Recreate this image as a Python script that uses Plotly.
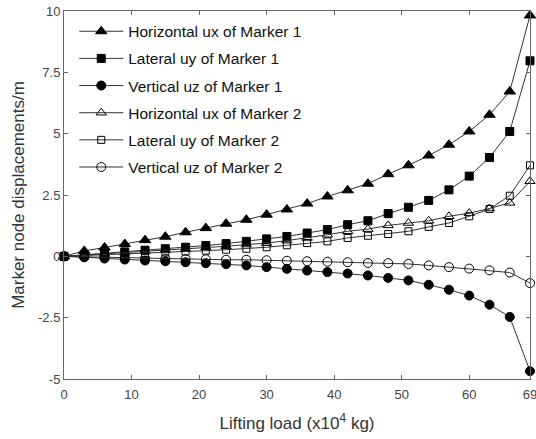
import plotly.graph_objects as go

load = [0, 3, 6, 9, 12, 15, 18, 21, 24, 27, 30, 33, 36, 39, 42, 45, 48, 51, 54, 57, 60, 63, 66, 69]

ux1 = [0, 0.22, 0.36, 0.5, 0.66, 0.8, 0.98, 1.15, 1.33, 1.49, 1.7, 1.91, 2.15, 2.44, 2.69, 2.96, 3.35, 3.71, 4.11, 4.55, 5.09, 5.77, 6.72, 9.82]
uy1 = [0, 0.06, 0.12, 0.18, 0.25, 0.31, 0.37, 0.44, 0.52, 0.61, 0.71, 0.81, 0.95, 1.09, 1.29, 1.45, 1.74, 2.0, 2.28, 2.71, 3.27, 4.03, 5.09, 7.97]
uz1 = [0, -0.04, -0.09, -0.13, -0.17, -0.2, -0.24, -0.28, -0.32, -0.37, -0.44, -0.51, -0.58, -0.64, -0.7, -0.78, -0.88, -0.98, -1.16, -1.36, -1.6, -1.97, -2.47, -4.68]
ux2 = [0, 0.05, 0.1, 0.15, 0.2, 0.25, 0.3, 0.36, 0.41, 0.48, 0.54, 0.64, 0.75, 0.88, 1.02, 1.11, 1.26, 1.36, 1.45, 1.63, 1.76, 1.95, 2.18, 3.06]
uy2 = [0, 0.03, 0.06, 0.09, 0.12, 0.16, 0.19, 0.23, 0.27, 0.31, 0.37, 0.45, 0.54, 0.61, 0.75, 0.84, 0.91, 1.02, 1.2, 1.36, 1.63, 1.93, 2.47, 3.71]
uz2 = [0, -0.02, -0.04, -0.06, -0.08, -0.1, -0.11, -0.12, -0.14, -0.14, -0.16, -0.18, -0.2, -0.22, -0.24, -0.27, -0.28, -0.31, -0.37, -0.44, -0.5, -0.57, -0.66, -1.09]

names = ["Horizontal ux of Marker 1", "Lateral uy of Marker 1", "Vertical uz of Marker 1",
         "Horizontal ux of Marker 2", "Lateral uy of Marker 2", "Vertical uz of Marker 2"]
series = [ux1, uy1, uz1, ux2, uy2, uz2]
symbols = ["triangle-up", "square", "circle", "triangle-up-open", "square-open", "circle-open"]
sizes = [10, 8, 9, 9, 7, 9]

x_ticks = [0, 10, 20, 30, 40, 50, 60, 69]
y_ticks = [-5, -2.5, 0, 2.5, 5, 7.5, 10]
y_tick_text = ["-5", "-2.5", "0", "2.5", "5", "7.5", "10"]

fig = go.Figure()
for i, (nm, ys, sym, sz) in enumerate(zip(names, series, symbols, sizes)):
    fig.add_trace(go.Scatter(
        x=load, y=ys, name=nm, mode="lines+markers",
        line=dict(color="#333333", width=1),
        marker=dict(symbol=sym, size=sz, color="black", line=dict(color="black", width=1)),
        cliponaxis=False, legendgroup=f"g{i}",
    ))

axis_common = dict(showline=True, linecolor="#666666", linewidth=1, mirror="ticks",
                   ticks="inside", ticklen=4, tickcolor="#666666", showgrid=False, zeroline=False,
                   automargin=False, ticklabeloverflow="allow",
                   tickfont=dict(family="Liberation Sans, Arial", size=13, color="#444444"))

fig.update_layout(
    width=536, height=439,
    margin=dict(l=64, r=6, t=11, b=60),
    paper_bgcolor="white", plot_bgcolor="white",
    font=dict(family="Liberation Sans, Arial", color="#222222"),
    xaxis=dict(range=[0, 69], tickvals=x_ticks, ticktext=[str(v) for v in x_ticks],
               ticklabelstandoff=3,
               title=dict(text="Lifting load (x10<sup>4</sup> kg)", font=dict(size=17, color="#333333"), standoff=16),
               **axis_common),
    yaxis=dict(range=[-5, 10], tickvals=y_ticks, ticktext=y_tick_text,
               title=dict(text="Marker node displacements/m", font=dict(size=17, color="#333333"), standoff=9),
               **axis_common),
    legend=dict(x=0.022, y=0.99, xanchor="left", yanchor="top", bgcolor="rgba(0,0,0,0)",
                font=dict(size=15.5, color="#111111"), tracegroupgap=4, itemwidth=44),
    showlegend=True,
)

fig.write_html("out.html", config={"displayModeBar": False},
               post_script="document.body.style.margin='0';")
